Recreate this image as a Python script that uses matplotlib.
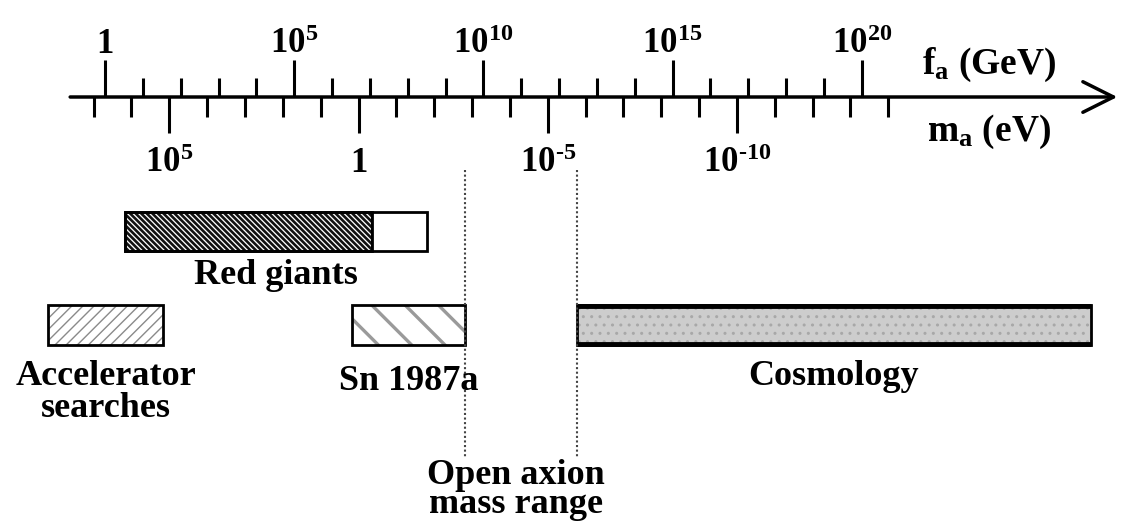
import numpy as np
import matplotlib.pyplot as plt

plt.rcParams['font.family'] = 'Liberation Serif'
plt.rcParams['font.weight'] = 'bold'
plt.rcParams['mathtext.fontset'] = 'custom'
plt.rcParams['mathtext.rm'] = 'Liberation Serif:bold'
plt.rcParams['mathtext.it'] = 'Liberation Serif:bold'
plt.rcParams['mathtext.bf'] = 'Liberation Serif:bold'

# f_a in GeV on top, m_a in eV underneath; m_a ~ C / f_a
C = 5.0e6

fa_exp = np.arange(0, 21)
fa_major = [0, 5, 10, 15, 20]
ma_exp = np.arange(7, -15, -1)
ma_major = [5, 0, -5, -10]

# excluded ranges of f_a (GeV)
accel = (10**-1.5, 10**1.53)
red_giants = (10**0.53, 10**8.5)
red_giants_firm = 10**7.05
sn1987a = (10**6.53, 10**9.52)
cosmology = (10**12.47, 10**26.05)


def pow_label(e):
    if e == 0:
        return '1'
    # short hyphen instead of the long math minus
    return r'$\mathrm{10}^{\mathrm{%s}}$' % str(e).replace('-', '\u2010')


def band(y, lo, hi, h, hatch=None, hatch_color='k', hatch_lw=1.0, face='white'):
    with plt.rc_context({'hatch.linewidth': hatch_lw}):
        p = ax.barh(y, hi - lo, left=lo, height=h, facecolor=face,
                    edgecolor=hatch_color, hatch=hatch, lw=0)
        for r in p:
            if hasattr(r, 'set_hatch_linewidth'):
                r.set_hatch_linewidth(hatch_lw)
    ax.barh(y, hi - lo, left=lo, height=h, facecolor='none', edgecolor='k', lw=2)


fig = plt.figure(figsize=(11.23, 5.27), dpi=100)
ax = fig.add_axes([0, 0, 1, 1])
ax.set_xscale('log')
ax.set_xlim(10**-2.774, 10**26.9)
ax.set_ylim(527, 0)
ax.axis('off')

# main axis with arrow
y0 = 97
ax.annotate('', xy=(10**26.75, y0), xytext=(10**-0.92, y0),
            arrowprops=dict(arrowstyle='->,head_length=1.1,head_width=0.55',
                            lw=2.5, color='k', mutation_scale=20,
                            shrinkA=0, shrinkB=0))

# f_a ticks above the line
fa = 10.0**fa_exp
top_len = np.where(np.isin(fa_exp, fa_major), 37, 19)
ax.vlines(fa, y0 - top_len, y0, color='k', lw=2.2)
for e in fa_major:
    ax.text(10.0**e, 53, pow_label(e), ha='center', va='baseline', fontsize=25)

# m_a ticks below the line
ma = 10.0**ma_exp
bot_len = np.where(np.isin(ma_exp, ma_major), 36, 20)
ax.vlines(C / ma, y0, y0 + bot_len, color='k', lw=2.2)
for e in ma_major:
    ax.text(C / 10.0**e, 172, pow_label(e), ha='center', va='baseline', fontsize=25)

ax.text(10**21.58, 65, r'$\mathrm{f}_{\mathrm{a}}$ (GeV)', ha='left', va='center', fontsize=27)
ax.text(10**21.72, 132, r'$\mathrm{m}_{\mathrm{a}}$ (eV)', ha='left', va='center', fontsize=27)

# excluded regions
band(231, red_giants[0], red_giants_firm, 39, hatch='\\\\\\\\\\\\', hatch_color='#111111', hatch_lw=1.9)
band(231, red_giants[0], red_giants[1], 39, face='none')
ax.vlines(red_giants_firm, 212, 250, color='k', lw=1.5)
band(325, accel[0], accel[1], 40, hatch='///', hatch_color='#8a8a8a', hatch_lw=1.0)
band(325, sn1987a[0], sn1987a[1], 40, hatch='\\', hatch_color='#9a9a9a', hatch_lw=2.4)
band(325, cosmology[0], cosmology[1], 40, hatch='..', hatch_color='#a8a8a8',
     hatch_lw=1.0, face='#cdcdcd')
ax.hlines([306, 344], cosmology[0], cosmology[1], color='k', lw=3.5)

# open window
open_lo, open_hi = sn1987a[1], cosmology[0]
ax.vlines([open_lo, open_hi], 170, 457, color='#444444', lw=1.5,
          linestyles=(0, (1, 1.2)))

fs = 26
ax.text(np.sqrt(red_giants[0] * red_giants[1]), 284, 'Red giants',
        ha='center', va='baseline', fontsize=fs)
ax.text(np.sqrt(accel[0] * accel[1]), 417, 'Accelerator\nsearches',
        ha='center', va='baseline', fontsize=fs, linespacing=0.95)
ax.text(np.sqrt(sn1987a[0] * sn1987a[1]), 390, 'Sn 1987a',
        ha='center', va='baseline', fontsize=fs)
ax.text(np.sqrt(cosmology[0] * cosmology[1]), 385, 'Cosmology',
        ha='center', va='baseline', fontsize=fs)
ax.text(np.sqrt(open_lo * open_hi) * 0.75, 513, 'Open axion\nmass range',
        ha='center', va='baseline', fontsize=fs, linespacing=0.85)

fig.savefig('out.png', dpi=100)
